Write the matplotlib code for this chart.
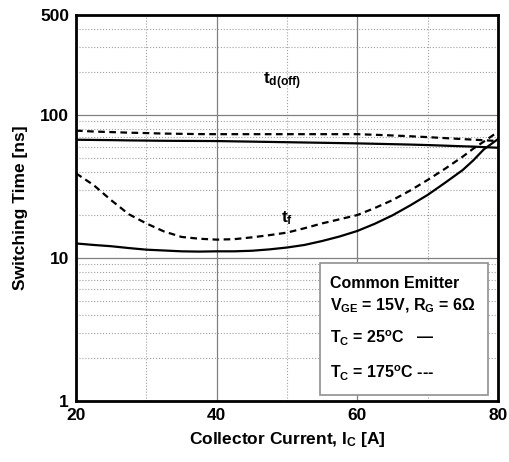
import numpy as np
import matplotlib.pyplot as plt
from matplotlib.ticker import FixedLocator, NullFormatter
from matplotlib.patches import Rectangle

plt.rcParams['font.family'] = ['Liberation Sans', 'DejaVu Sans']
plt.rcParams['font.weight'] = 'bold'
plt.rcParams['mathtext.fontset'] = 'custom'
plt.rcParams['mathtext.rm'] = 'Liberation Sans:bold'
plt.rcParams['mathtext.it'] = 'Liberation Sans:bold'
plt.rcParams['mathtext.bf'] = 'Liberation Sans:bold'

# collector current [A]
ic = [20, 22.5, 25, 27.5, 30, 32.5, 35, 37.5, 40, 42.5, 45, 47.5, 50, 52.5, 55, 57.5,
      60, 62.5, 65, 67.5, 70, 72.5, 75, 76.5, 78, 80]

# td(off) [ns]
td_25 = [67, 66.8, 66.6, 66.3, 66.1, 65.9, 65.8, 65.7, 65.6, 65.3, 65.0, 64.7, 64.4, 64.1, 63.8, 63.5,
         63.2, 62.8, 62.4, 62.0, 61.5, 60.9, 60.3, 60.0, 59.5, 58.9]
td_175 = [77.6, 76.5, 75.8, 75.1, 74.6, 74.0, 73.7, 73.4, 73.3, 73.3, 73.3, 73.3, 73.3, 73.3, 73.3, 73.3,
          73.3, 72.6, 71.8, 70.9, 69.9, 68.8, 67.7, 67.1, 66.5, 65.6]

# tf [ns]
tf_25 = [12.6, 12.3, 12.05, 11.7, 11.4, 11.25, 11.1, 11.05, 11.1, 11.1, 11.2, 11.45, 11.8, 12.3, 13.1, 14.1,
         15.4, 17.3, 19.8, 23.2, 27.5, 33.5, 41.1, 48.0, 57.3, 67.6]
tf_175 = [39.0, 32.3, 25.3, 20.2, 17.4, 15.3, 14.0, 13.6, 13.4, 13.5, 13.9, 14.4, 15.0, 16.1, 17.4, 18.6,
          19.9, 22.3, 25.3, 29.5, 35.0, 42.0, 51.0, 58.0, 65.0, 76.0]

fig = plt.figure(figsize=(5.09, 4.62), dpi=100)
ax = fig.add_axes([0.1493, 0.1327, 0.8287, 0.8348])

ax.set_xlim(20, 80)
ax.set_yscale('log')
ax.set_ylim(1, 500)

ax.xaxis.set_major_locator(FixedLocator([20, 40, 60, 80]))
ax.xaxis.set_minor_locator(FixedLocator([30, 50, 70]))
ax.yaxis.set_major_locator(FixedLocator([1, 10, 100, 500]))
ax.yaxis.set_minor_locator(FixedLocator([2, 3, 4, 5, 6, 7, 8, 9, 20, 30, 40, 50, 60, 70, 80, 90, 200, 300, 400]))
ax.yaxis.set_major_formatter(plt.FuncFormatter(lambda v, p: '%d' % v))
ax.yaxis.set_minor_formatter(NullFormatter())

ax.grid(which='major', color='#808080', linestyle='-', linewidth=0.9)
ax.grid(which='minor', color='#a0a0a0', linestyle=':', linewidth=0.8)
ax.tick_params(which='both', length=0, labelsize=12.5, pad=5)
for s in ax.spines.values():
    s.set_linewidth(2)

ax.plot(ic, td_25, color='black', linewidth=1.6, zorder=3)
ax.plot(ic, tf_25, color='black', linewidth=1.6, zorder=3)
ax.plot(ic, td_175, color='black', linewidth=1.6, linestyle=(0, (3, 2)), zorder=3)
ax.plot(ic, tf_175, color='black', linewidth=1.6, linestyle=(0, (3, 2)), zorder=3)

ax.text(46.6, 172, r'$\mathregular{t_{d(off)}}$', fontsize=12.5, ha='left', va='center')
ax.text(49.2, 18.8, r'$\mathregular{t_f}$', fontsize=12.5, ha='left', va='center')

ax.set_xlabel(r'Collector Current, I$_\mathregular{C}$ [A]', fontsize=12.5, fontweight='bold', labelpad=5)
ax.set_ylabel('Switching Time [ns]', fontsize=12.5, fontweight='bold', labelpad=9)

# legend box
box = Rectangle((320 / 509, (462 - 395) / 462), (488 - 320) / 509, (395 - 263) / 462,
                transform=fig.transFigure, facecolor='white', edgecolor='#909090',
                linewidth=1.2, zorder=5)
fig.patches.append(box)
lx = 330 / 509
fs = 11.5
fig.text(lx, 1 - 283 / 462, 'Common Emitter', fontsize=fs, va='center', zorder=6)
fig.text(lx, 1 - 306 / 462, r'V$_\mathregular{GE}$ = 15V, R$_\mathregular{G}$ = 6$\Omega$', fontsize=fs, va='center', zorder=6)
fig.text(lx, 1 - 338 / 462, r'T$_\mathregular{C}$ = 25$^\mathregular{o}$C   —', fontsize=fs, va='center', zorder=6)
fig.text(lx, 1 - 373 / 462, r'T$_\mathregular{C}$ = 175$^\mathregular{o}$C ---', fontsize=fs, va='center', zorder=6)

fig.savefig('out.png', dpi=100)
